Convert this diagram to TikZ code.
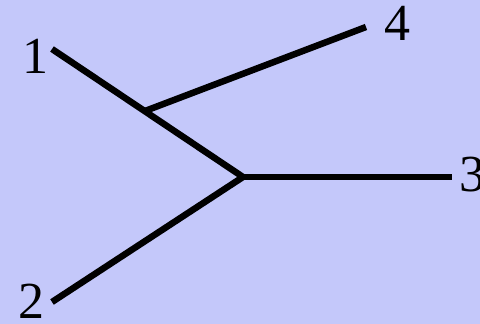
\documentclass[tikz,border=0pt]{standalone}
\usepackage{fontspec}
\setmainfont{Liberation Serif}
\definecolor{bgblue}{RGB}{196,200,250}
\begin{document}
\begin{tikzpicture}[x=1pt,y=-1pt,
  edge/.style={line width=6.5pt,black},
  lbl/.style={inner sep=0pt,font=\fontsize{52}{52}\selectfont}]
\fill[bgblue] (0,0) rectangle (480,324);
\useasboundingbox (0,0) rectangle (480,324);
\coordinate (e1) at (52,49);
\coordinate (e2) at (52,302);
\coordinate (e3) at (452,177);
\coordinate (e4) at (366,27);
\coordinate (v) at (243,177);
\coordinate (w) at (145,111);
\draw[edge] (e1) -- (v);
\draw[edge] (e2) -- (v);
\draw[edge] (v) -- (e3);
\draw[edge] (w) -- (e4);
\node[lbl] (l1) at (35,56) {1};
\node[lbl] (l2) at (31,301) {2};
\node[lbl] (l3) at (472,175) {3};
\node[lbl] (l4) at (397,23) {4};
\end{tikzpicture}
\end{document}
